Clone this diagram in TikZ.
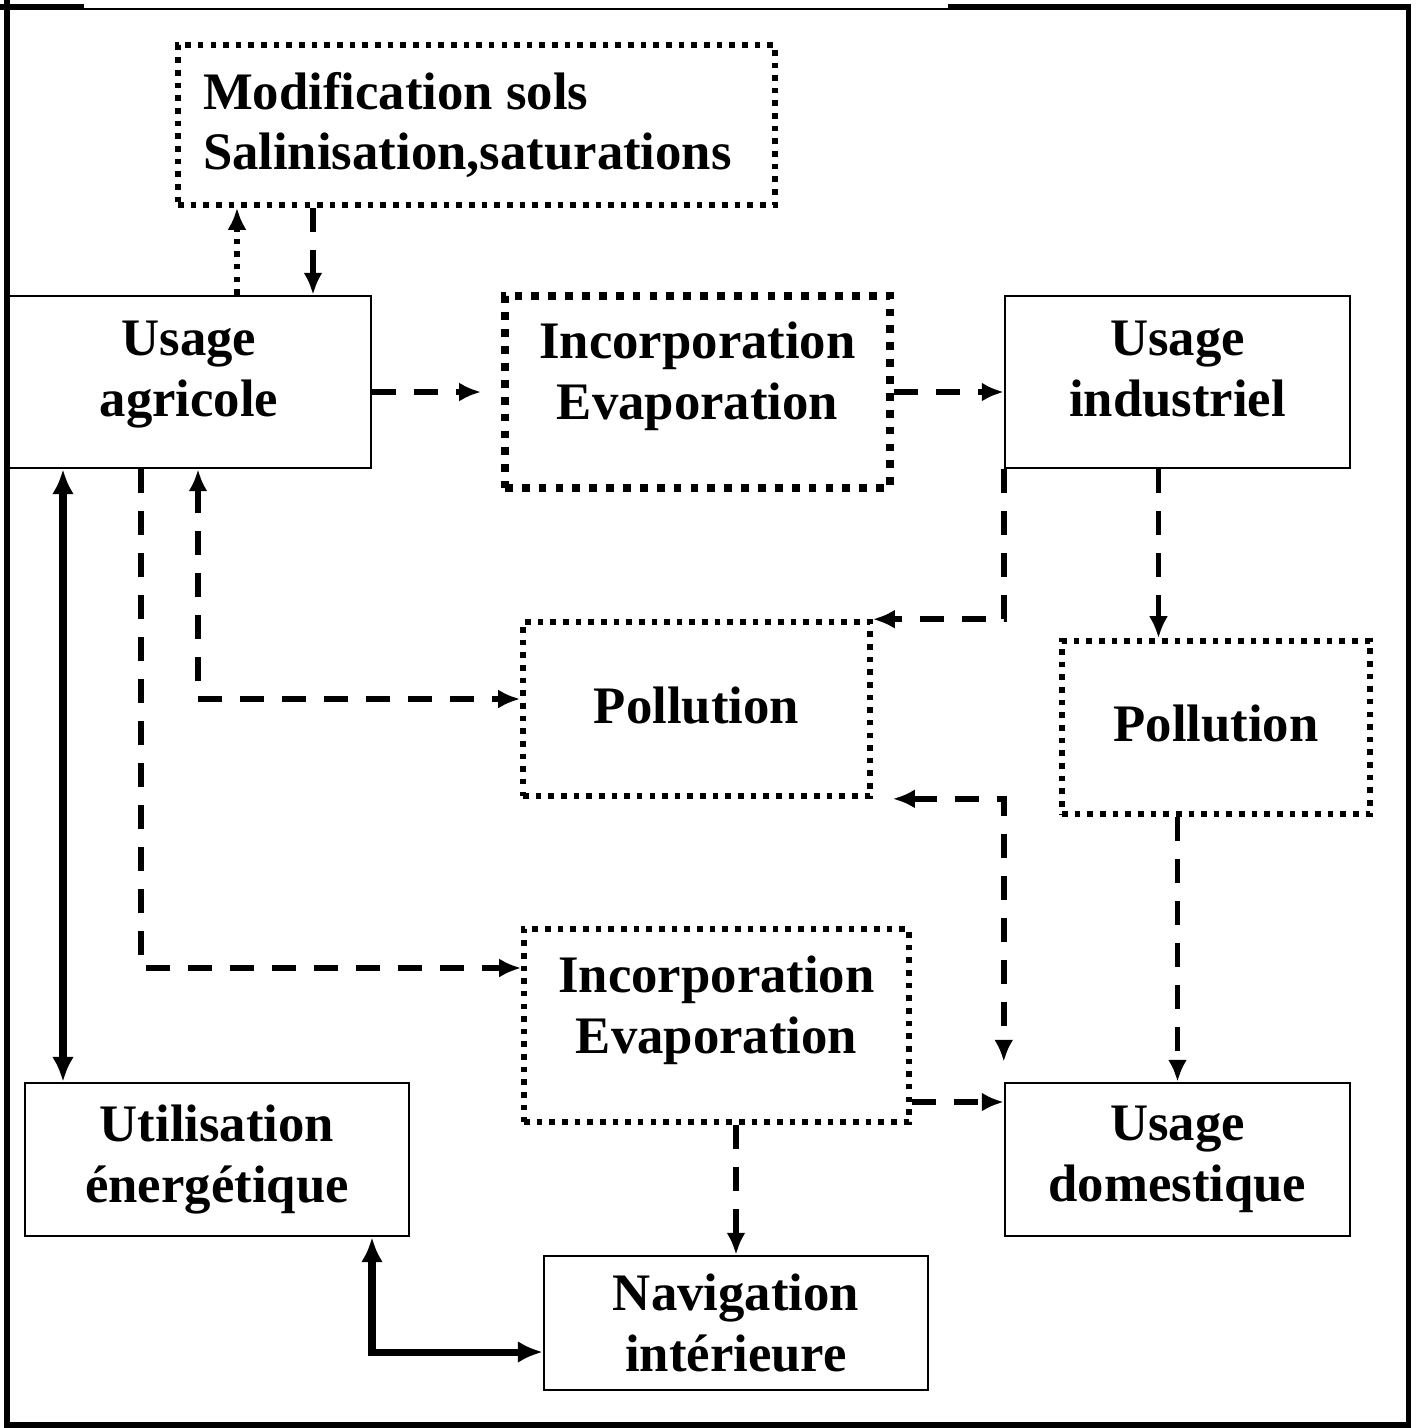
\documentclass[tikz,border=0pt]{standalone}
\usepackage{fontspec}
\setmainfont{Liberation Serif}
\usetikzlibrary{arrows.meta, positioning}

\begin{document}
\begin{tikzpicture}[
    b/.style={rectangle, draw, line width=0.7pt, inner sep=0pt, align=center,
      font=\fontsize{15}{17.3}\selectfont\bfseries},
    pb/.style={b, line width=1.6pt, dash pattern=on 1.6pt off 2pt},
    ppb/.style={b, line width=2.2pt, dash pattern=on 2.2pt off 2.6pt},
    >={Latex[length=0.22cm,width=0.19cm]},
    da/.style={line width=1.6pt, dash pattern=on 0.24cm off 0.18cm},
    pa/.style={line width=1.6pt, dash pattern=on 1.6pt off 2pt},
    sa/.style={line width=2pt, >={Latex[length=0.25cm,width=0.22cm]}, <->}]
  \useasboundingbox (0,0) rectangle (14.20,-14.28);
  % cadre
  \draw[line width=1.7pt] (0.07,0.07) -- (0.07,-14.25) -- (14.085,-14.25) -- (14.085,-0.07);
  \draw[line width=1.9pt] (0,-0.07) -- (0.84,-0.07) (9.48,-0.07) -- (14.11,-0.07);
  \draw[line width=0.7pt] (0.84,-0.09) -- (9.48,-0.09);

  % les usages
  \node[b, minimum width=3.64cm, minimum height=1.72cm, text depth=0.27cm] (agri) at (1.89,-3.82) {Usage\\agricole};
  \node[b, minimum width=3.45cm, minimum height=1.72cm, text depth=0.27cm] (ind) at (11.775,-3.82) {Usage\\industriel};
  \node[b, minimum width=3.84cm, minimum height=1.53cm] (energ) at (2.17,-11.595) {Utilisation\\énergétique};
  \node[b, minimum width=3.45cm, minimum height=1.53cm] (dom) at (11.775,-11.595) {Usage\\domestique};
  \node[b, minimum width=3.84cm, minimum height=1.34cm] (nav) at (7.36,-13.23) {Navigation\\intérieure};

  % les effets
  \node[pb, minimum width=5.97cm, minimum height=1.60cm, text width=5.47cm, align=flush left] (mod) at (4.765,-1.25)
    {Modification sols\\Salinisation,saturations};
  \node[ppb, minimum width=3.85cm, minimum height=1.92cm, text depth=0.42cm] (inc1) at (6.975,-3.92) {Incorporation\\Evaporation};
  \node[pb, minimum width=3.47cm, minimum height=1.74cm, text depth=0.08cm] (pol1) at (6.965,-7.09) {Pollution};
  \node[pb, minimum width=3.08cm, minimum height=1.73cm, text depth=0.08cm] (pol2) at (12.16,-7.275) {Pollution};
  \node[pb, minimum width=3.85cm, minimum height=1.93cm, text depth=0.42cm] (inc2) at (7.165,-10.255) {Incorporation\\Evaporation};

  % fleches
  \draw[pa, ->] ([xshift=0.48cm]agri.north) -- ([xshift=0.48cm]agri.north |- mod.south);
  \draw[da, ->] ([xshift=1.24cm]agri.north |- mod.south) -- ([xshift=1.24cm]agri.north);
  \draw[da, ->] (agri.east |- inc1.west) -- ([xshift=-0.2cm]inc1.west);
  \draw[da, ->] (inc1.east) -- (inc1.east -| ind.west);
  \draw[da, ->] (ind.south west) |- (pol1.north east);
  \draw[da, ->] ([xshift=-0.19cm]ind.south) -- ([xshift=-0.19cm]ind.south |- pol2.north);
  \draw[da, <->] ([xshift=0.09cm]agri.south) |- ([yshift=0.1cm]pol1.west);
  \draw[da, ->] ([xshift=-0.48cm]agri.south) |- ([yshift=0.575cm]inc2.west);
  \draw[da, <->] ([xshift=0.2cm]pol1.south east) -| ([yshift=0.2cm]dom.north west);
  \draw[da, ->] (pol2.south -| dom.north) -- (dom.north);
  \draw[da, ->] ([yshift=-0.765cm]inc2.east) -- ([yshift=-0.765cm]inc2.east -| dom.west);
  \draw[da, ->] (inc2.south -| nav.north) -- (nav.north);
  \draw[sa] ([xshift=-1.26cm]agri.south) -- ([xshift=-1.26cm]agri.south |- energ.north);
  \draw[sa] ([xshift=1.55cm]energ.south) |- ([yshift=-0.29cm]nav.west);
\end{tikzpicture}
\end{document}
